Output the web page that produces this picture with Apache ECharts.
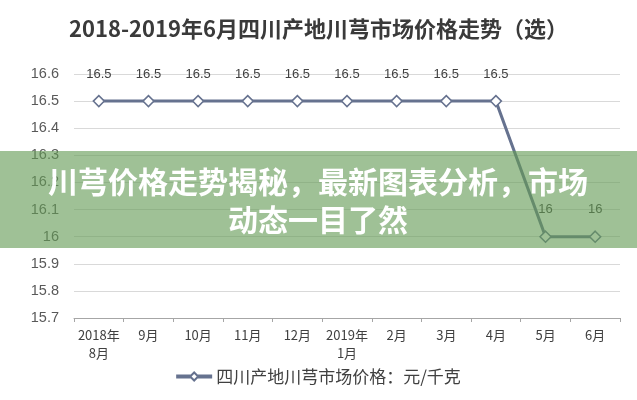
<!DOCTYPE html>
<html><head><meta charset="utf-8">
<script src="https://cdn.jsdelivr.net/npm/echarts@6/dist/echarts.min.js"></script>
<style>html,body{margin:0;padding:0;background:#fff}#c{width:637px;height:400px}</style>
</head><body><div id="c"></div>
<script>
var categories = ['2018年\n8月','9月','10月','11月','12月','2019年\n1月','2月','3月','4月','5月','6月'];
var prices = [16.5,16.5,16.5,16.5,16.5,16.5,16.5,16.5,16.5,16,16];
var yTicks = [15.7,15.8,15.9,16,16.1,16.2,16.3,16.4,16.5,16.6];
var titleText = '2018-2019年6月四川产地川芎市场价格走势（选）';
var seriesName = '四川产地川芎市场价格：元/千克';
var bannerText = '川芎价格走势揭秘，最新图表分析，市场\n动态一目了然';

var chart = echarts.init(document.getElementById('c'));
var lineColor = '#66728f';
chart.setOption({
  animation: false,
  backgroundColor: '#fff',
  title: {
    text: titleText, left: 'center', top: 13,
    textStyle: {fontFamily: 'Noto Sans CJK SC', fontWeight: 'bold', fontSize: 22, color: '#3a3a3a'}
  },
  grid: {left: 74, right: 17, top: 74, bottom: 82},
  legend: {
    bottom: 10, left: 'center', itemWidth: 34, itemHeight: 10, itemGap: 3,
    textStyle: {fontFamily: 'Noto Sans CJK SC', fontSize: 17, color: '#404040'},
    data: [{name: seriesName, icon: 'path://M0,4 L14,4 L17,1 L20,4 L34,4 L34,6 L20,6 L17,9 L14,6 L0,6 Z'}]
  },
  xAxis: {
    type: 'category', data: categories, boundaryGap: true,
    axisLine: {lineStyle: {color: '#a6a6a6'}},
    axisTick: {show: true, length: 4, lineStyle: {color: '#a6a6a6'}},
    axisLabel: {color: '#404040', fontSize: 13, fontFamily: 'Noto Sans CJK SC', margin: 8, lineHeight: 18, interval: 0}
  },
  yAxis: {
    type: 'value', min: yTicks[0], max: yTicks[yTicks.length-1], interval: 0.1,
    axisLine: {show: false}, axisTick: {show: false},
    splitLine: {lineStyle: {color: '#d9d9d9', width: 1}},
    axisLabel: {color: '#595959', fontSize: 14.5, fontFamily: 'Liberation Sans', margin: 15,
      formatter: function(v){ return String(Math.round(v*10)/10); }}
  },
  series: [{
    name: seriesName, type: 'line', data: prices,
    symbol: 'diamond', symbolSize: 11,
    lineStyle: {color: lineColor, width: 3},
    itemStyle: {color: '#fff', borderColor: lineColor, borderWidth: 1.5},
    label: {show: true, position: 'top', distance: 14, color: '#404040', fontSize: 13, fontFamily: 'Liberation Sans'},
    z: 2
  }],
  graphic: [{
    type: 'group', z: 100,
    children: [
      {type: 'rect', shape: {x: 0, y: 151, width: 637, height: 97}, style: {fill: 'rgba(100,155,85,0.62)'}, z: 100},
      {type: 'text', x: 318, y: 201, z: 101,
        style: {text: bannerText, fill: '#fff', font: 'bold 30px "Noto Sans CJK SC"', align: 'center', verticalAlign: 'middle', lineHeight: 38}}
    ]
  }]
});
</script></body></html>
